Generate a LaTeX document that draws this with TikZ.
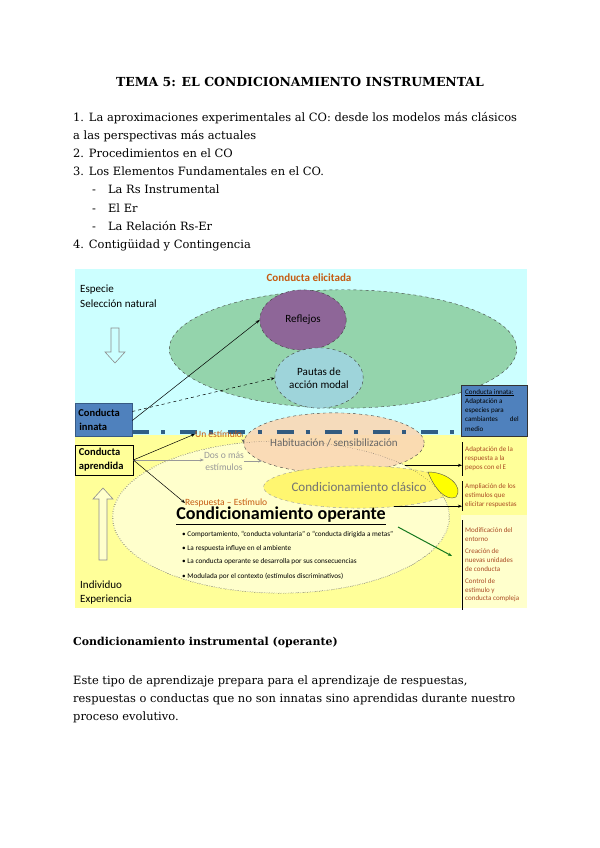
\documentclass[tikz,border=0pt]{standalone}
\usepackage{fontspec}
\setmainfont{DejaVu Serif}
\newfontfamily\diagfont{Carlito}
\usetikzlibrary{shapes.geometric, arrows.meta, positioning, calc}
\definecolor{cyanbg}{RGB}{204,255,255}
\definecolor{yellowbg}{RGB}{255,255,153}
\definecolor{paleyellow}{RGB}{255,255,204}
\definecolor{elicgreen}{RGB}{148,212,172}
\definecolor{reflpurple}{RGB}{142,102,152}
\definecolor{pautablue}{RGB}{158,212,218}
\definecolor{habpeach}{RGB}{250,216,180}
\definecolor{clasyellow}{RGB}{255,246,112}
\definecolor{lensyellow}{RGB}{255,255,0}
\definecolor{innatablue}{RGB}{79,129,189}
\definecolor{sepblue}{RGB}{31,78,121}
\definecolor{elicorange}{RGB}{197,90,17}
\definecolor{notebrown}{RGB}{170,75,35}
\definecolor{opgreen}{RGB}{20,120,30}
\tikzset{
  doc text/.style={
    anchor=base west, inner sep=0pt,
    font=\fontsize{11.4}{18}\selectfont
  },
  doc title/.style={
    doc text, anchor=base, font=\fontsize{12.4}{14}\selectfont\bfseries
  },
  co ellipse/.style={
    ellipse, draw=black!75, dashed, inner sep=0pt, align=center,
    font=\diagfont\fontsize{11}{12.5}\selectfont
  },
  co label/.style={
    font=\diagfont\fontsize{11}{14}\selectfont, align=left, inner sep=0pt
  },
  co box/.style={
    rectangle, draw=black, inner sep=0pt, align=left,
    font=\diagfont\bfseries\fontsize{10.5}{14}\selectfont
  },
  co small/.style={
    font=\diagfont\fontsize{9.5}{12}\selectfont, align=center, inner sep=0pt
  },
  co bullet/.style={
    anchor=west, inner sep=0pt, font=\diagfont\fontsize{7.2}{8}\selectfont
  },
  side note/.style={
    anchor=north west, align=left, inner sep=0pt, text=notebrown,
    font=\diagfont\fontsize{7}{9.2}\selectfont
  },
  co arrow/.style={
    -{Stealth[length=4pt, width=3pt]}, draw=black, line width=0.5pt
  },
  hollow arrow/.style={
    draw=black!45, line width=0.6pt
  }
}

\begin{document}
\begin{tikzpicture}[x=0.035cm, y=-0.035cm]
  \useasboundingbox (0,0) rectangle (600,848);
  \fill[white] (0,0) rectangle (600,848);

  % cabecera y temario
  \node (title) [doc title] at (300,87) {TEMA 5: EL CONDICIONAMIENTO INSTRUMENTAL};
  \node (t1) [doc text] at (73,122) {1. La aproximaciones experimentales al CO: desde los modelos más clásicos};
  \node (t1b) [doc text] at (73,140) {a las perspectivas más actuales};
  \node (t2) [doc text] at (73,158) {2. Procedimientos en el CO};
  \node (t3) [doc text] at (73,176) {3. Los Elementos Fundamentales en el CO.};
  \node (t3a) [doc text] at (92,194) {-\hspace{12pt}La Rs Instrumental};
  \node (t3b) [doc text] at (92,212) {-\hspace{12pt}El Er};
  \node (t3c) [doc text] at (92,230) {-\hspace{12pt}La Relación Rs-Er};
  \node (t4) [doc text] at (73,248) {4. Contigüidad y Contingencia};

  % fondos del esquema
  \fill[cyanbg] (75,269) rectangle (527,435);
  \fill[yellowbg] (75,435) rectangle (527,608);
  \fill[paleyellow] (461,515) rectangle (527,608);

  % conducta elicitada
  \node (elic) [co ellipse, fill=elicgreen, minimum width=346pt, minimum height=118pt] at (343,349) {};
  \node (refl) [co ellipse, fill=reflpurple, minimum width=86pt, minimum height=60pt] at (303,320) {Reflejos};
  \node (pauta) [co ellipse, fill=pautablue, minimum width=88pt, minimum height=60pt] at (319,378) {Pautas de\\acción modal};
  \node (eltit) [font=\diagfont\bfseries\fontsize{11}{12}\selectfont, text=elicorange, inner sep=0pt] at (309,278) {Conducta elicitada};

  % conducta aprendida
  \node (oper) [co ellipse, dotted, fill=paleyellow, minimum width=336pt, minimum height=152pt] at (281,517) {};
  \node (hab) [co ellipse, fill=habpeach, fill opacity=0.9, text opacity=1, text=black!60, minimum width=148pt, minimum height=60pt] at (334,443) {Habituación / sensibilización};
  \node (clas) [co ellipse, draw=black!40, fill=clasyellow, text=black!55, font=\diagfont\fontsize{13}{14}\selectfont, minimum width=172pt, minimum height=42pt] at (359,487) {Condicionamiento clásico};
  \draw[black!75, dotted] (oper.center) ellipse [x radius=168, y radius=76];
  \draw[black!70, fill=lensyellow] (428,472) .. controls (448,472) and (464,487) .. (456,497) .. controls (446,502) and (434,488) .. cycle;

  % separacion innata / aprendida
  \draw[sepblue, line width=4pt, dash pattern=on 17pt off 12pt on 4pt off 15pt, opacity=0.9] (132,432) -- (461,432);

  % textos laterales
  \node (especie) [co label, anchor=west] at (80,290) {Especie};
  \node (selec) [co label, anchor=west] at (80,304) {Selección natural};
  \node (indiv) [co label, anchor=west] at (80,585) {Individuo};
  \node (exper) [co label, anchor=west] at (80,600) {Experiencia};
  \draw[hollow arrow, fill=cyanbg] (111,328) -- (119,328) -- (119,352) -- (125,352) -- (115,363) -- (105,352) -- (111,352) -- cycle;
  \draw[hollow arrow, fill=paleyellow] (99,560) -- (107,560) -- (107,499) -- (113,499) -- (103,488) -- (93,499) -- (99,499) -- cycle;

  \node (innata) [co box, fill=innatablue, draw=innatablue!70!black, minimum width=57pt, minimum height=33pt, text width=50pt] at (103.5,419.5) {Conducta\\\hspace{1pt}innata};
  \node (aprend) [co box, fill=yellowbg, minimum width=58pt, minimum height=30pt, text width=50pt] at (104,460) {Conducta\\aprendida};

  % etiquetas del condicionamiento
  \node (unest) [co small, anchor=west, text=elicorange] at (195,434) {Un estímulo};
  \node (dos) [co small, text=black!40] at (224,461) {Dos o más\\estímulos};
  \node (resp) [co small, anchor=west, text=elicorange] at (185,503) {Respuesta – Estímulo};
  \node (optit) [font=\diagfont\bfseries\fontsize{18}{20}\selectfont, inner sep=0pt] at (281,516) {\underline{Condicionamiento operante}};
  \node (b1) [co bullet] at (182,535) {• Comportamiento, “conducta voluntaria” o “conducta dirigida a metas”};
  \node (b2) [co bullet] at (182,549) {• La respuesta influye en el ambiente};
  \node (b3) [co bullet] at (182,562) {• La conducta operante se desarrolla por sus consecuencias};
  \node (b4) [co bullet] at (182,576) {• Modulada por el contexto (estímulos discriminativos)};

  % cuadros de la derecha
  \node (nota) [rectangle, draw=black!80, fill=innatablue, minimum width=66pt, minimum height=51pt, inner sep=0pt] at (494,410.5) {};
  \node (notatx) [side note, text=black, anchor=north west] at (465,389) {\underline{Conducta innata:}\\Adaptación a\\especies para\\cambiantes\hspace{12pt}del\\medio};
  \node (adapt) [side note, minimum height=33pt] at (465,442) {Adaptación de la\\respuesta a la\\pepos con el E};
  \node (ampl) [side note, minimum height=29pt] at (465,481) {Ampliación de los\\estímulos que\\elicitar respuestas};
  \node (modif) [side note, minimum height=89pt, font=\diagfont\fontsize{7}{8.6}\selectfont] at (465,520) {Modificación del\\entorno\\[4pt]Creación de\\nuevas unidades\\de conducta\\[4pt]Control de\\estímulo y\\conducta compleja};
  \draw[black, line width=0.8pt] ([xshift=-3pt]adapt.north west) -- ([xshift=-3pt]adapt.south west);
  \draw[black, line width=0.8pt] ([xshift=-3pt]ampl.north west) -- ([xshift=-3pt]ampl.south west);
  \draw[black, line width=0.8pt] ([xshift=-3pt]modif.north west) -- ([xshift=-3pt]modif.south west);

  % flechas
  \draw[co arrow] ([yshift=-1pt]innata.east) -- (refl.west);
  \draw[co arrow, dashed] ([yshift=8pt]innata.east) -- (pauta.west);
  \draw[co arrow] (aprend.east) -- (unest.west);
  \draw[co arrow, draw=black!40] (aprend.east) -- (dos.west |- aprend.east);
  \draw[co arrow] (aprend.east) -- (resp.west);
  \draw[co arrow, draw=black!40] (dos.east) -- ++(18,0);
  \draw[co arrow, dashed, draw=black!60] (unest.east) -- (hab.west);
  \draw[co arrow] ([xshift=10pt]hab.-20) -- ([xshift=-3pt]hab.-20 -| adapt.west);
  \draw[co arrow] ([xshift=-6pt]clas.-25) -- ([xshift=-3pt]clas.-25 -| ampl.west);
  \coordinate (gfrom) at (398,527);
  \coordinate (gto) at (452,556);
  \draw[co arrow, draw=opgreen, line width=1pt] (gfrom) -- (gto);

  % texto final
  \node (sub) [doc text, font=\fontsize{10.9}{18}\selectfont\bfseries] at (73,645) {Condicionamiento instrumental (operante)};
  \node (p1) [doc text] at (73,684) {Este tipo de aprendizaje prepara para el aprendizaje de respuestas,};
  \node (p2) [doc text] at (73,702) {respuestas o conductas que no son innatas sino aprendidas durante nuestro};
  \node (p3) [doc text] at (73,720) {proceso evolutivo.};
\end{tikzpicture}
\end{document}
